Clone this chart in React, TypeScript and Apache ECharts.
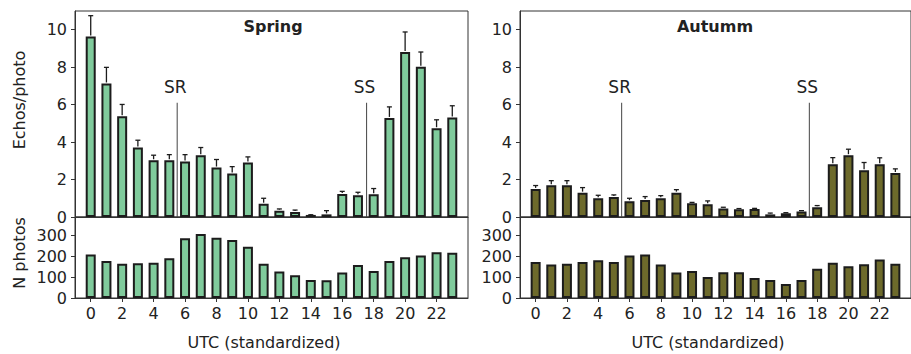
import { useEffect, useRef } from 'react';
import * as echarts from 'echarts';

const hours = [0, 1, 2, 3, 4, 5, 6, 7, 8, 9, 10, 11, 12, 13, 14, 15, 16, 17, 18, 19, 20, 21, 22, 23];

const springEchos = [9.64, 7.13, 5.38, 3.71, 3.03, 3.03, 2.96, 3.3, 2.64, 2.32, 2.91, 0.71, 0.34, 0.27, 0.11, 0.14, 1.23, 1.16, 1.21, 5.29, 8.81, 8.02, 4.74, 5.31];
const springErrTop = [10.75, 7.99, 6.01, 4.1, 3.3, 3.33, 3.33, 3.71, 3.07, 2.69, 3.21, 1.0, 0.43, 0.37, 0.12, 0.34, 1.37, 1.32, 1.52, 5.88, 9.88, 8.81, 5.19, 5.94];
const springPhotos = [209, 178, 164, 167, 169, 191, 287, 307, 289, 279, 246, 164, 127, 109, 87, 85, 122, 159, 130, 178, 196, 204, 220, 217];

const autumnEchos = [1.5, 1.69, 1.69, 1.3, 1.0, 1.07, 0.84, 0.91, 1.0, 1.3, 0.73, 0.68, 0.46, 0.41, 0.43, 0.14, 0.2, 0.3, 0.52, 2.82, 3.3, 2.5, 2.82, 2.35];
const autumnErrTop = [1.68, 1.94, 1.94, 1.57, 1.16, 1.18, 1.0, 1.09, 1.14, 1.46, 0.78, 0.86, 0.52, 0.45, 0.46, 0.21, 0.23, 0.34, 0.61, 3.17, 3.62, 2.91, 3.16, 2.57];
const autumnPhotos = [173, 161, 164, 173, 181, 173, 204, 209, 161, 122, 130, 101, 124, 124, 96, 87, 67, 87, 140, 169, 152, 162, 185, 165];

const hourTicks = [0, 2, 4, 6, 8, 10, 12, 14, 16, 18, 20, 22];
const echoTicks = [0, 2, 4, 6, 8, 10];
const photoTicks = [0, 100, 200, 300];

const sunLabels = ['SR', 'SS'];
const springSun = [5.5, 17.55];
const autumnSun = [5.5, 17.5];
const sunLineTop = 6.1;

const FONT = 'DejaVu Sans';
const TXT = '#222';
const AX = '#333';

export default function App() {
  const ref = useRef<HTMLDivElement>(null);
  useEffect(() => {
    document.body.style.margin = '0';
    const chart = echarts.init(ref.current!, undefined, { renderer: 'svg' });

    const grids = [
      { left: 75, top: 11, width: 393, height: 206 },
      { left: 75, top: 217, width: 393, height: 81 },
      { left: 520, top: 11, width: 395, height: 206 },
      { left: 520, top: 217, width: 395, height: 81 },
    ].map((g) => ({ ...g, show: true, borderColor: AX, borderWidth: 1, backgroundColor: 'transparent', containLabel: false }));

    const labelStyle = { fontFamily: FONT, fontSize: 16, color: TXT };

    const xAxes = [0, 1, 2, 3].map((i) => {
      const bottom = i % 2 === 1;
      return {
        type: 'value',
        gridIndex: i,
        min: -1,
        max: 24,
        splitLine: { show: false },
        axisLine: { show: true, onZero: false, lineStyle: { color: AX, width: 1 } },
        axisTick: bottom
          ? { show: true, customValues: hourTicks, length: 4, inside: false, lineStyle: { color: AX } }
          : { show: false },
        axisLabel: bottom
          ? { show: true, customValues: hourTicks, margin: 7, ...labelStyle }
          : { show: false },
      };
    });

    const yAxes = [0, 1, 2, 3].map((i) => {
      const bottom = i % 2 === 1;
      const ticks = bottom ? photoTicks : echoTicks;
      return {
        type: 'value',
        gridIndex: i,
        min: 0,
        max: bottom ? 389 : 11,
        splitLine: { show: false },
        axisLine: { show: true, onZero: false, lineStyle: { color: AX, width: 1 } },
        axisTick: { show: true, customValues: ticks, length: 4, lineStyle: { color: AX } },
        axisLabel: { show: true, customValues: ticks, margin: 8, ...labelStyle },
      };
    });

    const barSeries = (idx: number, values: number[], color: string) => ({
      type: 'bar',
      xAxisIndex: idx,
      yAxisIndex: idx,
      barWidth: 10,
      data: hours.map((h, k) => [h, values[k]]),
      itemStyle: { color, borderColor: '#1c1c1c', borderWidth: 2 },
      z: 2,
    });

    const errSeries = (idx: number, values: number[], tops: number[]) => ({
      type: 'custom',
      xAxisIndex: idx,
      yAxisIndex: idx,
      z: 3,
      encode: { x: 0, y: [1, 2] },
      data: hours.map((h, k) => [h, values[k], tops[k]]),
      renderItem: (_p: any, api: any) => {
        const x = api.value(0);
        const p0 = api.coord([x, api.value(1)]);
        const p1 = api.coord([x, api.value(2)]);
        const st = { stroke: '#1c1c1c', lineWidth: 1.3 };
        return {
          type: 'group',
          children: [
            { type: 'line', shape: { x1: p0[0], y1: p0[1] - 1, x2: p1[0], y2: p1[1] }, style: st },
            { type: 'line', shape: { x1: p1[0] - 2.5, y1: p1[1], x2: p1[0] + 2.5, y2: p1[1] }, style: st },
          ],
        };
      },
    });

    const sunSeries = (idx: number, xs: number[]) => ({
      type: 'custom',
      xAxisIndex: idx,
      yAxisIndex: idx,
      z: 4,
      clip: false,
      data: xs.map((x, k) => [x, sunLineTop, k]),
      renderItem: (_p: any, api: any) => {
        const x = api.value(0);
        const k = api.value(2);
        const p0 = api.coord([x, 0]);
        const p1 = api.coord([x, api.value(1)]);
        return {
          type: 'group',
          children: [
            { type: 'line', shape: { x1: p0[0], y1: p0[1], x2: p1[0], y2: p1[1] }, style: { stroke: '#444', lineWidth: 1 } },
            {
              type: 'text',
              x: p1[0] - 2,
              y: p1[1] - 16,
              style: { text: sunLabels[k], fontFamily: FONT, fontSize: 17, fill: TXT, align: 'center', verticalAlign: 'middle' },
            },
          ],
        };
      },
    });

    const txt = (text: string, x: number, y: number, extra: any = {}, rot = 0) => ({
      type: 'text',
      x,
      y,
      rotation: rot,
      style: { text, fontFamily: FONT, fontSize: 16, fill: TXT, align: 'center', verticalAlign: 'middle', ...extra },
    });

    chart.setOption({
      animation: false,
      grid: grids,
      xAxis: xAxes,
      yAxis: yAxes,
      series: [
        barSeries(0, springEchos, '#80cb9c'),
        errSeries(0, springEchos, springErrTop),
        sunSeries(0, springSun),
        barSeries(1, springPhotos, '#80cb9c'),
        barSeries(2, autumnEchos, '#6d6a2b'),
        errSeries(2, autumnEchos, autumnErrTop),
        sunSeries(2, autumnSun),
        barSeries(3, autumnPhotos, '#6d6a2b'),
      ],
      graphic: [
        txt('Spring', 273, 26, { fontWeight: 'bold' }),
        txt('Autumm', 715, 26, { fontWeight: 'bold' }),
        txt('Echos/photo', 19, 100, {}, Math.PI / 2),
        txt('N photos', 19, 253, {}, Math.PI / 2),
        txt('UTC (standardized)', 264, 342),
        txt('UTC (standardized)', 708, 342),
      ],
    });
    return () => chart.dispose();
  }, []);
  return <div ref={ref} style={{ width: 911, height: 354 }} />;
}
